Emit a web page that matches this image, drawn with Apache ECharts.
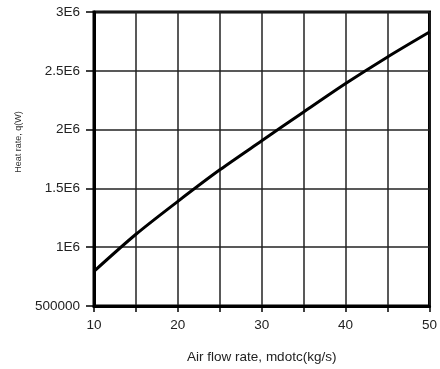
<!DOCTYPE html>
<html>
<head>
<meta charset="utf-8">
<script src="https://cdn.jsdelivr.net/npm/echarts@6/dist/echarts.min.js"></script>
<style>
  html, body { margin: 0; padding: 0; background: #fff; }
  #chart { width: 440px; height: 369px; }
</style>
</head>
<body>
<div id="chart"></div>
<script>
// air flow rate (kg/s) and heat rate (W)
var flowRate = [10, 15, 20, 25, 30, 35, 40, 45, 50];
var heatRate = [795000, 1110000, 1390000, 1658000, 1905000, 2150000, 2392000, 2618000, 2830000];

var xTickLabels = ['10', '20', '30', '40', '50'];
var yTickLabels = {500000: '500000', 1000000: '1E6', 1500000: '1.5E6', 2000000: '2E6', 2500000: '2.5E6', 3000000: '3E6'};

var lineData = flowRate.map(function (x, i) { return [x, heatRate[i]]; });

var fontName = 'Liberation Sans, Arial, sans-serif';
var labelFont = {
  color: '#222',
  fontFamily: fontName,
  fontSize: 13.5
};

var myChart = echarts.init(document.getElementById('chart'), null, { renderer: 'canvas' });

myChart.setOption({
  animation: false,
  grid: {
    left: 94,
    right: 3,
    top: 12,
    bottom: 62,
    show: true,
    borderColor: '#000',
    borderWidth: 3,
    backgroundColor: 'transparent'
  },
  xAxis: {
    type: 'value',
    min: 10,
    max: 50,
    interval: 5,
    name: 'Air flow rate, mdotc(kg/s)',
    nameLocation: 'middle',
    nameGap: 44,
    nameTextStyle: { color: '#222', fontFamily: fontName, fontSize: 13.5 },
    axisLine: { show: true, lineStyle: { color: '#000', width: 3 } },
    axisTick: { show: true, length: 6, lineStyle: { color: '#000', width: 1.5 } },
    axisLabel: Object.assign({
      margin: 12,
      alignMinLabel: 'center',
      alignMaxLabel: 'center',
      formatter: function (v) {
        return xTickLabels.indexOf(String(v)) >= 0 ? String(v) : '';
      }
    }, labelFont),
    splitLine: { show: true, lineStyle: { color: '#222', width: 1.5 } }
  },
  yAxis: {
    type: 'value',
    min: 500000,
    max: 3000000,
    interval: 500000,
    name: 'Heat rate, q(W)',
    nameLocation: 'middle',
    nameGap: 71,
    nameRotate: 90,
    nameTextStyle: { color: '#333', fontFamily: fontName, fontSize: 9, padding: [0, 0, 0, 34] },
    axisLine: { show: true, lineStyle: { color: '#000', width: 3 } },
    axisTick: { show: true, length: 8, lineStyle: { color: '#000', width: 1.5 } },
    axisLabel: Object.assign({
      margin: 14,
      formatter: function (v) { return yTickLabels[v] || ''; }
    }, labelFont),
    splitLine: { show: true, lineStyle: { color: '#222', width: 1.5 } }
  },
  series: [
    {
      type: 'line',
      data: lineData,
      smooth: 0.3,
      showSymbol: false,
      lineStyle: { color: '#000', width: 3 },
      z: 5
    }
  ]
});
</script>
</body>
</html>
